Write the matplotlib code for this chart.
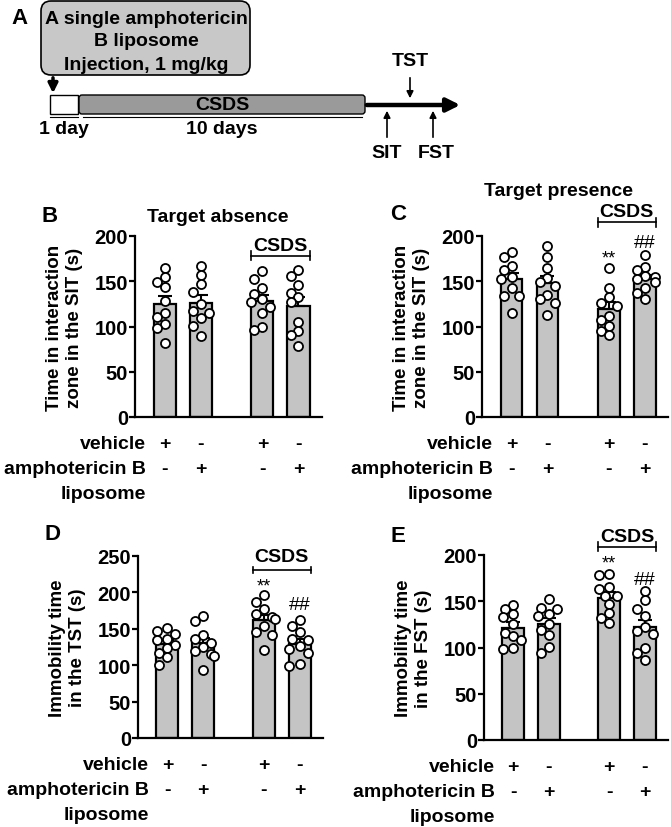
import matplotlib
matplotlib.use("Agg")
import matplotlib.pyplot as plt
from matplotlib.patches import FancyBboxPatch, Rectangle
import numpy as np

plt.rcParams['font.family'] = ['Liberation Sans', 'DejaVu Sans']
plt.rcParams['font.weight'] = 'bold'
plt.rcParams['axes.labelweight'] = 'bold'

W, H = 671, 828

# data (s), one list per group:
# vehicle, amphotericin B, CSDS+vehicle, CSDS+amphotericin B
absence = [
    [165, 155, 149, 144, 128, 115, 110, 103, 98, 82],
    [167, 157, 147, 138, 125, 117, 115, 109, 101, 89],
    [161, 153, 143, 136, 130, 127, 121, 115, 100, 96],
    [162, 156, 146, 137, 133, 127, 105, 95, 91, 79],
]
presence = [
    [182, 177, 167, 162, 155, 152, 143, 134, 134, 115],
    [189, 177, 165, 154, 149, 145, 135, 130, 126, 113],
    [165, 143, 133, 126, 123, 112, 107, 101, 95, 91],
    [179, 166, 162, 156, 155, 152, 149, 143, 137, 130],
]
tst = [
    [151, 147, 143, 136, 134, 128, 123, 117, 111, 100],
    [168, 161, 141, 136, 131, 125, 120, 116, 113, 94],
    [196, 187, 177, 171, 166, 164, 154, 145, 141, 121],
    [162, 154, 145, 136, 134, 126, 122, 117, 102, 99],
]
fst = [
    [146, 142, 136, 133, 125, 116, 112, 108, 100, 98],
    [152, 143, 142, 136, 134, 125, 119, 113, 101, 94],
    [180, 178, 165, 163, 156, 156, 147, 137, 132, 126],
    [161, 151, 142, 134, 122, 118, 115, 100, 94, 86],
]
vehicle_signs = ['+', '-', '+', '-']
ampho_signs = ['-', '+', '-', '+']
positions = [0, 1, 2.7, 3.7]

fig = plt.figure(figsize=(W / 100, H / 100), dpi=100)


def px(x, y):
    return x / W, 1 - y / H


def swarm(vals, ppu):
    # simple beeswarm: x offsets (bar units) so circles don't overlap
    placed = []
    offs = np.zeros(len(vals))
    order = np.argsort(vals)[::-1]
    cands = [0, -0.22, 0.22, -0.11, 0.11, -0.3, 0.3]
    for i in order:
        for c in cands:
            ok = True
            for (o, v) in placed:
                if ((c - o) * 36) ** 2 + ((vals[i] - v) * ppu) ** 2 < 8.5 ** 2:
                    ok = False
                    break
            if ok:
                break
        offs[i] = c
        placed.append((c, vals[i]))
    return offs


def bar_panel(rect, groups, ymax, ylabel, stars=None, csds=None):
    l, t, r, b = rect
    ax = fig.add_axes([l / W, 1 - b / H, (r - l) / W, (b - t) / H])
    ppu = (b - t) / ymax
    means = [np.mean(g) for g in groups]
    sems = [np.std(g, ddof=1) / np.sqrt(len(g)) for g in groups]
    ax.bar(positions, means, width=0.61, color='#c4c4c4', edgecolor='black',
           linewidth=1.6, zorder=1)
    ax.errorbar(positions, means, yerr=[np.zeros(4), sems], fmt='none',
                ecolor='black', elinewidth=1.5, capsize=5, capthick=1.5, zorder=2)
    for p, g in zip(positions, groups):
        g = np.array(g, dtype=float)
        ax.plot(p + swarm(g, ppu), g, 'o', ms=6.5, mfc='white', mec='black',
                mew=1.3, zorder=3, clip_on=False)
    ax.set_xlim(-0.82, 4.35)
    ax.set_ylim(0, ymax)
    ax.set_yticks(np.arange(0, ymax + 1, 50))
    ax.set_xticks([])
    for s in ['top', 'right']:
        ax.spines[s].set_visible(False)
    for s in ['left', 'bottom']:
        ax.spines[s].set_linewidth(1.6)
    ax.tick_params(axis='y', length=4, width=1.6, labelsize=14.5, pad=1)
    ax.set_ylabel(ylabel, fontsize=13.5, labelpad=8, linespacing=1.25)
    # treatment rows under the axis
    for p, vs, am in zip(positions, vehicle_signs, ampho_signs):
        ax.annotate(vs, xy=(p, 0), xycoords=('data', 'axes fraction'),
                    xytext=(0, -19), textcoords='offset points',
                    ha='center', va='center', fontsize=14)
        ax.annotate(am, xy=(p, 0), xycoords=('data', 'axes fraction'),
                    xytext=(0, -37), textcoords='offset points',
                    ha='center', va='center', fontsize=14)
    for txt, dy in [('vehicle', -19), ('amphotericin B', -37), ('liposome', -55)]:
        ax.annotate(txt, xy=(-0.52, 0), xycoords=('data', 'axes fraction'),
                    xytext=(0, dy), textcoords='offset points',
                    ha='right', va='center', fontsize=14)
    if csds is not None:
        yb, yt = csds
        x0, x1 = positions[2] - 0.305, positions[3] + 0.305
        ax.plot([x0, x1], [yb, yb], color='black', lw=1.2, clip_on=False)
        for xx in (x0, x1):
            ax.plot([xx, xx], [yb - 6 * 200 / ymax / 1.2, yb + 6 * 200 / ymax / 1.2],
                    color='black', lw=1.2, clip_on=False)
        ax.text((x0 + x1) / 2, yt, 'CSDS', ha='center', va='center', fontsize=14)
    if stars is not None:
        ys, yh = stars
        ax.text(positions[2], ys, '**', ha='center', va='center', fontsize=13,
                fontweight='normal')
        ax.text(positions[3], yh, '##', ha='center', va='center', fontsize=14,
                fontweight='normal')
    return ax


sit_label = 'Time in interaction\nzone in the SIT (s)'
bar_panel((135, 237, 322, 418), absence, 200, sit_label, csds=(178, 190))
bar_panel((482, 237, 668, 418), presence, 200, sit_label, stars=(176, 193),
          csds=(215, 227))
bar_panel((138, 557, 323, 739), tst, 250, 'Immobility time\nin the TST (s)',
          stars=(209, 184), csds=(231, 249))
bar_panel((484, 556, 668, 741), fst, 200, 'Immobility time\nin the FST (s)',
          stars=(191, 174), csds=(209, 220))

for letter, x, y in [('B', 50, 216), ('C', 398, 215), ('D', 52, 535), ('E', 398, 537)]:
    fig.text(*px(x, y), letter, ha='center', va='center', fontsize=16)
fig.text(*px(218, 218), 'Target absence', ha='center', va='center', fontsize=14)
fig.text(*px(558, 192), 'Target presence', ha='center', va='center', fontsize=14)

# panel A: timeline schematic
axa = fig.add_axes([0, 1 - 170 / H, 1, 170 / H])
axa.set_xlim(0, W)
axa.set_ylim(170, 0)
axa.axis('off')
axa.text(19, 19, 'A', ha='center', va='center', fontsize=16)
axa.add_patch(FancyBboxPatch((41, 2), 209, 74, boxstyle='round,pad=0,rounding_size=10',
                             fc='#c8c8c8', ec='black', lw=1.2))
for txt, y in [('A single amphotericin', 19), ('B liposome', 42), ('Injection, 1 mg/kg', 65)]:
    axa.text(146, y, txt, ha='center', va='center', fontsize=14)
axa.annotate('', xy=(53, 97), xytext=(53, 76),
             arrowprops=dict(arrowstyle='-|>', lw=2.5, color='black', mutation_scale=14))
axa.add_patch(Rectangle((50, 96), 28, 19, fc='white', ec='black', lw=1))
axa.add_patch(FancyBboxPatch((79, 96), 286, 19, boxstyle='round,pad=0,rounding_size=3',
                             fc='#9a9a9a', ec='black', lw=1))
axa.text(222, 106, 'CSDS', ha='center', va='center', fontsize=14)
axa.annotate('', xy=(463, 106), xytext=(364, 106),
             arrowprops=dict(arrowstyle='-|>', lw=3.2, color='black', mutation_scale=20))
axa.plot([50, 78], [118, 118], color='black', lw=0.8)
axa.plot([83, 362], [118, 118], color='black', lw=0.8)
axa.text(64, 129, '1 day', ha='center', va='center', fontsize=14)
axa.text(222, 129, '10 days', ha='center', va='center', fontsize=14)
for x, y0, y1 in [(387, 141, 109), (433, 141, 109), (410, 76, 102)]:
    axa.annotate('', xy=(x, y1), xytext=(x, y0),
                 arrowprops=dict(arrowstyle='-|>', lw=1.2, color='black', mutation_scale=10))
axa.text(387, 153, 'SIT', ha='center', va='center', fontsize=14)
axa.text(436, 153, 'FST', ha='center', va='center', fontsize=14)
axa.text(410, 62, 'TST', ha='center', va='center', fontsize=14)

fig.savefig('out.png', dpi=100)
